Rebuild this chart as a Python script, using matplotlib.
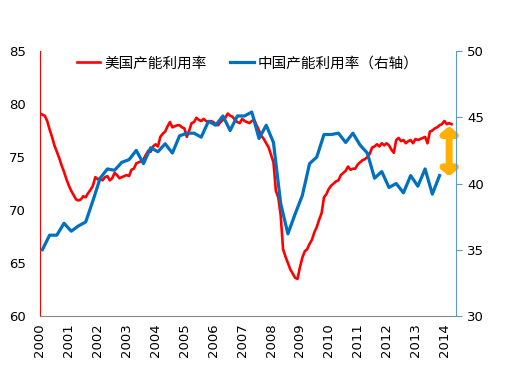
import numpy as np
import matplotlib
matplotlib.use("Agg")
import matplotlib.pyplot as plt

plt.rcParams['font.family'] = ['DejaVu Sans', 'Noto Sans CJK SC']

# US capacity utilization, monthly from 2000-01 (left axis)
us_2000 = [79.1, 79.0, 78.9, 78.4, 77.6, 76.9, 76.1, 75.5, 74.9, 74.2, 73.6, 72.9]
us_2001 = [72.3, 71.8, 71.4, 71.0, 70.9, 71.0, 71.3, 71.2, 71.6, 71.9, 72.3, 73.1]
us_2002 = [72.9, 73.0, 72.8, 73.1, 73.2, 72.8, 73.0, 73.5, 73.3, 73.0, 73.1, 73.2]
us_2003 = [73.3, 73.2, 73.8, 73.9, 74.4, 74.5, 74.6, 74.8, 75.2, 75.6, 75.5, 76.0]
us_2004 = [76.2, 76.0, 76.9, 77.2, 77.4, 77.9, 78.3, 77.8, 77.9, 78.0, 78.0, 77.8]
us_2005 = [77.7, 76.9, 77.5, 78.2, 78.3, 78.7, 78.5, 78.4, 78.6, 78.4, 78.3, 78.4]
us_2006 = [78.3, 78.1, 78.0, 78.3, 78.5, 78.7, 79.1, 78.9, 78.8, 78.5, 78.3, 78.2]
us_2007 = [78.6, 78.4, 78.3, 78.2, 78.4, 78.5, 78.0, 77.5, 77.0, 76.7, 76.3, 75.9]
us_2008 = [75.2, 74.5, 71.8, 71.2, 69.5, 66.3, 65.6, 65.0, 64.4, 64.0, 63.6, 63.5]
us_2009 = [64.6, 65.5, 66.1, 66.3, 66.8, 67.2, 67.9, 68.4, 69.1, 69.7, 71.2, 71.5]
us_2010 = [72.0, 72.3, 72.5, 72.7, 72.8, 73.3, 73.5, 73.7, 74.1, 73.8, 73.9, 73.9]
us_2011 = [74.3, 74.5, 74.7, 74.8, 75.0, 75.3, 75.9, 76.0, 76.2, 76.0, 76.3, 76.1]
us_2012 = [76.3, 76.1, 75.7, 75.4, 76.6, 76.8, 76.5, 76.6, 76.3, 76.5, 76.6, 76.3]
us_2013 = [76.7, 76.6, 76.7, 76.8, 76.9, 76.3, 77.4, 77.5, 77.7, 77.8, 78.0, 78.1]
us_2014 = [78.4, 78.1, 78.2, 78.1]
us_cu = (us_2000 + us_2001 + us_2002 + us_2003 + us_2004 + us_2005 + us_2006
         + us_2007 + us_2008 + us_2009 + us_2010 + us_2011 + us_2012 + us_2013 + us_2014)

# China capacity utilization, quarterly (right axis)
cn_cu = [35.0, 36.1, 36.1, 37.0, 36.4, 36.8, 37.1, 38.7, 40.4, 41.1, 41.0, 41.6,
         41.8, 42.5, 41.5, 42.7, 42.4, 43.0, 42.3, 43.6, 43.8, 43.8, 43.5, 44.7,
         44.4, 45.1, 44.0, 45.1, 45.1, 45.4, 43.4, 44.4, 43.1, 38.5, 36.2, 37.7,
         39.1, 41.5, 42.0, 43.7, 43.7, 43.8, 43.1, 43.8, 42.9, 42.3, 40.4, 40.9,
         39.7, 40.0, 39.3, 40.6, 39.8, 41.1, 39.2, 40.6]

years = [str(y) for y in range(2000, 2015)]

us_x = np.arange(len(us_cu))
cn_x = np.arange(len(cn_cu)) * 3 + 1

fig = plt.figure(figsize=(5.06, 3.70), dpi=100)
ax = fig.add_axes([0.079, 0.146, 0.822, 0.716])
ax2 = ax.twinx()

l1, = ax.plot(us_x, us_cu, color='#FF0000', lw=1.9, label='美国产能利用率')
l2, = ax2.plot(cn_x, cn_cu, color='#0070C0', lw=2.3, label='中国产能利用率（右轴）')

ax.set_xlim(0, 172.8)
ax.set_ylim(60, 85)
ax2.set_ylim(30, 50)
ax.set_yticks(range(60, 86, 5))
ax2.set_yticks(range(30, 51, 5))
ax.set_xticks(range(0, 169, 12))
ax.set_xticklabels(years, rotation=90)

for a in (ax, ax2):
    a.spines['top'].set_visible(False)
ax.spines['left'].set_color('#FF0000')
ax.spines['right'].set_visible(False)
ax.spines['bottom'].set_color('#868686')
ax2.spines['left'].set_visible(False)
ax2.spines['bottom'].set_visible(False)
ax2.spines['right'].set_color('#5B9BD5')

ax.tick_params(axis='x', length=0, pad=5, labelsize=9.5)
ax.tick_params(axis='y', length=0, pad=10, labelsize=9.5)
ax2.tick_params(axis='y', length=4, color='#5B9BD5', pad=4, labelsize=9.5)

# gap arrow between the two series
ax.annotate('', xy=(170, 77.9), xytext=(170, 73.2),
            arrowprops=dict(arrowstyle='<|-|>,head_length=0.35,head_width=0.45',
                            lw=5, color='#FFB000', shrinkA=0, shrinkB=0))

ax2.legend([l1, l2], [l1.get_label(), l2.get_label()], loc='center',
           bbox_to_anchor=(0.5, 0.955), ncol=2, frameon=False, fontsize=10.5,
           handlelength=1.6, handletextpad=0.3, columnspacing=1.6)

fig.savefig('out.png', dpi=100)
